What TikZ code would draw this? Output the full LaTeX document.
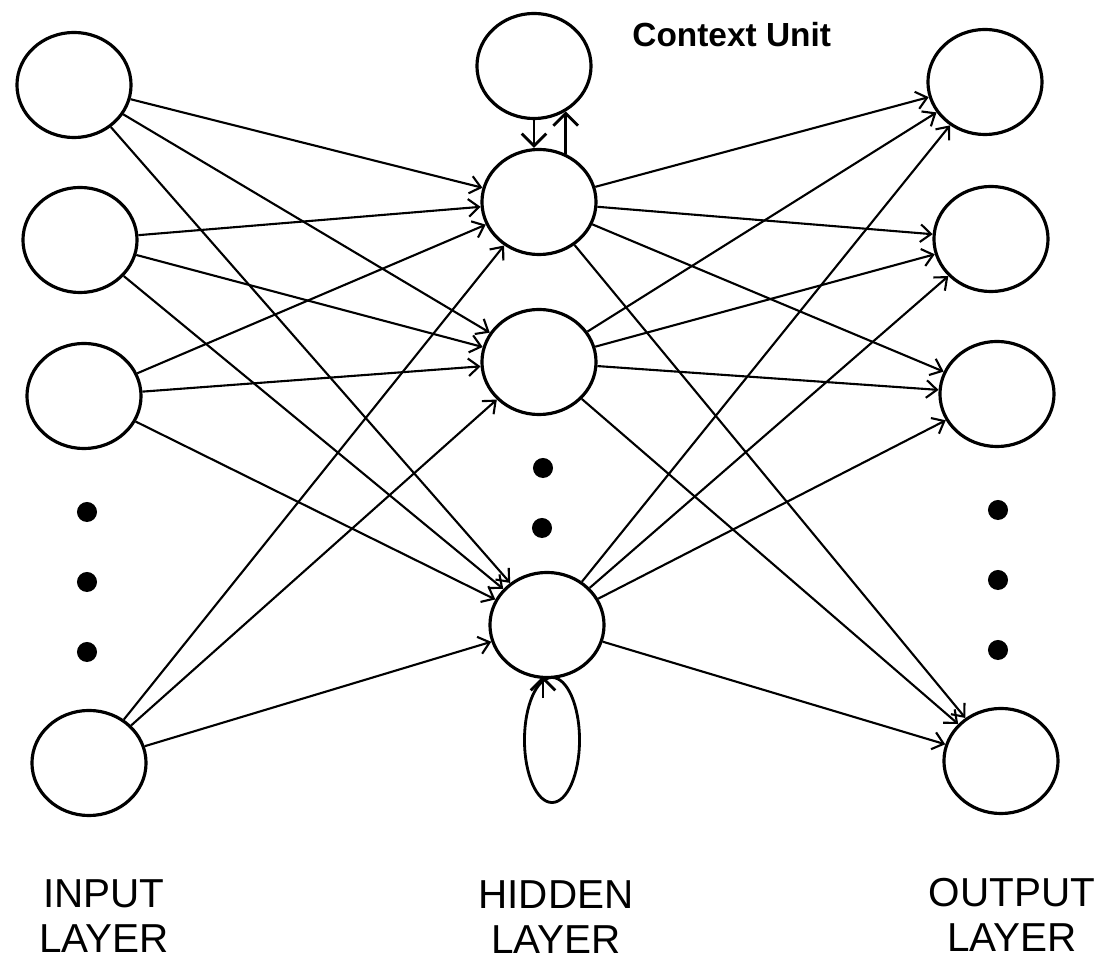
\documentclass[tikz,border=0pt]{standalone}
\usepackage{fontspec}
\setmainfont{Liberation Sans}
\usetikzlibrary{shapes.geometric,arrows.meta}

\tikzset{
    neuron/.style={draw, ellipse, line width=0.9pt, minimum width=1.14cm, minimum height=1.05cm, inner sep=0pt},
    link/.style={line width=0.6pt, -{Straight Barb[length=3pt,width=5pt]}},
    recur/.style={line width=0.8pt, -{Straight Barb[length=3.5pt,width=7pt]}},
    layerlabel/.style={align=center, font=\fontsize{11.5}{12.8}\selectfont},
}

\begin{document}
\begin{tikzpicture}[x=0.01cm, y=-0.01cm]
    \useasboundingbox (0,0) rectangle (1111,958);
    % input layer
    \node[neuron] (in1) at (74,85) {};
    \node[neuron] (in2) at (80,240) {};
    \node[neuron] (in3) at (84,396) {};
    \node[neuron] (in4) at (89,763) {};
    % hidden layer and context unit
    \node[neuron] (ctx) at (534,66) {};
    \node[neuron] (h1) at (539,202) {};
    \node[neuron] (h2) at (539,362) {};
    \node[neuron] (h4) at (547,625) {};
    % output layer
    \node[neuron] (out1) at (985,82) {};
    \node[neuron] (out2) at (991,239) {};
    \node[neuron] (out3) at (997,394) {};
    \node[neuron] (out4) at (1001,761) {};
    % dots
    \foreach \y in {512,582,652} \fill (87,\y) circle (0.1cm);
    \foreach \y in {510,580,650} \fill (998,\y) circle (0.1cm);
    \fill (543,468) circle (0.1cm);
    \fill (542,528) circle (0.1cm);
    % weights
    \foreach \i in {in1,in2,in3,in4}
        \foreach \j in {h1,h2,h4}
            \draw[link] (\i) -- (\j);
    \foreach \i in {h1,h2,h4}
        \foreach \j in {out1,out2,out3,out4}
            \draw[link] (\i) -- (\j);
    % context feedback
    \draw[recur] (ctx.south) -- (ctx.south |- h1.north);
    \draw[recur] (h1.61) -- (h1.61 |- ctx.-55);
    % self loop
    \node[draw, ellipse, line width=0.8pt, minimum width=0.55cm, minimum height=1.25cm, inner sep=0pt] (loop) at (552,740) {};
    \draw[recur] ([xshift=-0.09cm,yshift=-0.22cm]loop.north) -- ([xshift=-0.09cm]loop.north);
    % labels
    \node[anchor=base west, font=\bfseries\fontsize{9.5}{11}\selectfont] (ctxname) at (620,47) {Context Unit};
    \node[layerlabel] (inname) at (104,916) {INPUT\\LAYER};
    \node[layerlabel] (hidname) at (556,917) {HIDDEN\\LAYER};
    \node[layerlabel] (outname) at (1012,915) {OUTPUT\\LAYER};
\end{tikzpicture}
\end{document}
